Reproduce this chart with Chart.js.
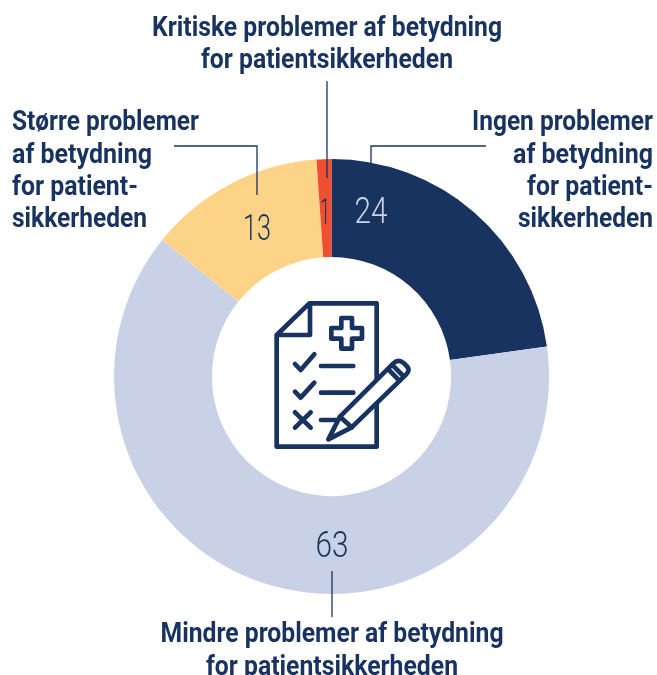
<!DOCTYPE html>
<html>
<head>
<meta charset="utf-8">
<script src="https://cdn.jsdelivr.net/npm/chart.js@4"></script>
<style>
    html, body { margin: 0; padding: 0; background: #fff; }
    canvas { display: block; }
</style>
</head>
<body>
<canvas id="donut" width="657" height="675"></canvas>
<script>
const categories = [
    'Ingen problemer af betydning for patientsikkerheden',
    'Mindre problemer af betydning for patientsikkerheden',
    'Større problemer af betydning for patientsikkerheden',
    'Kritiske problemer af betydning for patientsikkerheden'
];
// slice sizes as measured on the picture, they differ a bit from the printed labels
const sliceValues = [22.8, 63, 13.1, 1.1];
const printedValues = ['24', '63', '13', '1'];
const sliceColors = ['#18335f', '#c8d1e6', '#fdd388', '#f04e30'];

const navy = '#18335f';
const labelFont = 'bold 27px Roboto';
const valueFont = '300 36px Roboto';

// [text, x, baseline, align, fitted width]
const captions = [
    ['Kritiske problemer af betydning', 327, 36, 'center', 350],
    ['for patientsikkerheden', 327, 68, 'center', 252],
    ['Større problemer', 12, 130, 'left', 187],
    ['af betydning', 12, 163, 'left', 140],
    ['for patient-', 12, 195, 'left', 126],
    ['sikkerheden', 12, 227, 'left', 135],
    ['Ingen problemer', 653, 130, 'right', 181],
    ['af betydning', 653, 163, 'right', 140],
    ['for patient-', 653, 195, 'right', 126],
    ['sikkerheden', 653, 227, 'right', 135],
    ['Mindre problemer af betydning', 332, 642, 'center', 343],
    ['for patientsikkerheden', 332, 675, 'center', 252]
];
const leaders = [
    [[327, 81], [327, 178]],
    [[174, 146], [257, 146], [257, 195]],
    [[486, 146], [371, 146], [371, 163]],
    [[332, 571], [332, 617]]
];
const valueSpots = [[371, 214], [332, 548], [257, 231], [325, 215]];
const valueWidths = [33, 33, 28, 10];

function drawIcon(ctx) {
    ctx.save();
    ctx.translate(260, 290);
    ctx.scale(1 / 3, 1 / 3);
    ctx.strokeStyle = navy;
    ctx.lineWidth = 14;
    ctx.lineJoin = 'round';
    ctx.lineCap = 'round';

    ctx.stroke(new Path2D('M50 135 L148 40 H350 V470 H50 Z M50 135 H150 V40'));
    ctx.stroke(new Path2D('M244 84 H276 V114 H306 V146 H276 V176 H244 V146 H214 V114 H244 Z'));
    ctx.stroke(new Path2D('M105 222 L122 240 L163 193 M183 228 H280'));
    ctx.stroke(new Path2D('M105 305 L122 323 L163 278 M183 308 H280'));
    ctx.stroke(new Path2D('M105 367 L152 413 M152 367 L105 413 M183 390 H240'));

    const pencil = new Path2D('M205 448 L240 380 L400 220 Q415 205 432 220 L440 228 Q452 240 438 254 L275 412 Z');
    ctx.fillStyle = '#fff';
    ctx.fill(pencil);
    ctx.stroke(pencil);
    ctx.stroke(new Path2D('M240 380 L275 412 M385 238 L418 272 M398 226 L430 258'));
    ctx.restore();
}

const annotations = {
    id: 'annotations',
    afterDraw(chart) {
        const ctx = chart.ctx;
        ctx.save();

        ctx.strokeStyle = navy;
        ctx.lineWidth = 1.3;
        leaders.forEach(points => {
            ctx.beginPath();
            points.forEach(([x, y], i) => i ? ctx.lineTo(x, y) : ctx.moveTo(x, y));
            ctx.stroke();
        });

        ctx.fillStyle = navy;
        ctx.font = labelFont;
        captions.forEach(([text, x, y, align, width]) => {
            ctx.textAlign = align;
            ctx.textBaseline = 'alphabetic';
            ctx.fillText(text, x, y, width);
        });

        ctx.font = valueFont;
        ctx.textAlign = 'center';
        ctx.textBaseline = 'middle';
        printedValues.forEach((text, i) => {
            ctx.fillStyle = i === 0 ? '#c8d1e6' : navy;
            ctx.fillText(text, valueSpots[i][0], valueSpots[i][1], valueWidths[i]);
        });

        ctx.restore();
        drawIcon(ctx);
    }
};

new Chart(document.getElementById('donut'), {
    type: 'doughnut',
    data: {
        labels: categories,
        datasets: [{
            data: sliceValues,
            backgroundColor: sliceColors,
            borderWidth: 0
        }]
    },
    options: {
        responsive: false,
        animation: false,
        cutout: '55%',
        layout: { padding: { left: 114, right: 108, top: 159, bottom: 81 } },
        plugins: { legend: { display: false }, tooltip: { enabled: false } }
    },
    plugins: [annotations]
});
</script>
</body>
</html>
